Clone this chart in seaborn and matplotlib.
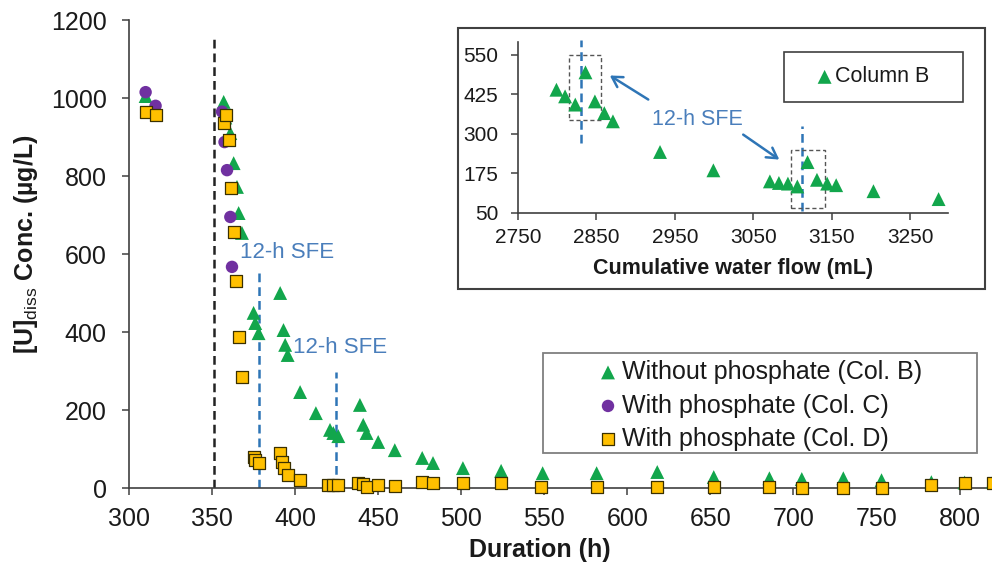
import numpy as np
import pandas as pd
import matplotlib
matplotlib.use("Agg")
import matplotlib.pyplot as plt
import seaborn as sns
from matplotlib.patches import Rectangle

# ---------------- data ----------------
colB_hours = [310, 357, 358, 361, 363, 365, 366, 368, 375, 376, 378, 391, 393, 394, 395.5,
              403, 412.5, 421, 423, 426, 439, 441, 443, 450, 460, 476.5, 483, 501, 524, 549,
              581.5, 618, 652, 685.5, 705, 730, 753, 783, 803, 820]
colB_conc = [1005, 990, 950, 910, 833, 772, 705, 654, 449, 423, 397, 500, 405, 367, 341,
             246, 192, 149, 141, 133, 213, 162, 141, 118, 97, 77, 64, 51, 44, 38,
             38, 41, 28, 25, 23, 25, 20, 15, 14, 16]

colC_hours = [310, 316, 356, 357.5, 359, 361, 362]
colC_conc = [1015, 980, 965, 887, 815, 695, 567]

colD_hours = [310, 316, 357, 358.6, 360, 361.5, 363, 364.5, 366, 368, 375, 376, 378, 391, 392,
              393.5, 395.5, 403, 420, 423, 426, 438, 441, 443, 450, 460, 476.5, 483, 501, 524,
              548, 581.5, 618, 652, 685.5, 705, 730, 753, 783, 803, 820]
colD_conc = [965, 957, 936, 956, 892, 769, 656, 530, 387, 285, 80, 72, 64, 90, 67,
             51, 33, 20, 8, 8, 8, 13, 10, 3, 8, 5, 15, 13, 13, 13,
             3, 2, 2, 2, 2, 0, 1, 1, 8, 12, 12]

inset_flow = [2799, 2810, 2823, 2836, 2848, 2860, 2871, 2931, 2999, 3071, 3082.5, 3094,
              3106, 3119, 3131, 3144, 3155.5, 3203, 3286]
inset_conc = [440, 419, 393, 495, 403, 366, 340, 243, 185, 150, 145, 143,
              134, 211, 155, 143, 138, 119, 94]

main_xticks = list(range(300, 801, 50))
main_yticks = list(range(0, 1201, 200))
inset_xticks = list(range(2750, 3251, 100))
inset_yticks = [50, 175, 300, 425, 550]

labels = ["Without phosphate (Col. B)", "With phosphate (Col. C)", "With phosphate (Col. D)"]

# ---------------- style ----------------
sns.set_theme(style="ticks")
plt.rcParams['font.family'] = ['Liberation Sans', 'DejaVu Sans']
plt.rcParams['mathtext.fontset'] = 'custom'
plt.rcParams['mathtext.rm'] = 'Liberation Sans'
plt.rcParams['mathtext.bf'] = 'Liberation Sans:bold'

GREEN = "#12A64C"
PURPLE = "#7030A0"
GOLD = "#FFC000"
BLUE = "#2E75B6"
TXTBLUE = "#4A7EBB"
SPINE = "#404040"

W, H = 992, 567
fig = plt.figure(figsize=(W / 100, H / 100), dpi=100)


def fx(px):
    return px / W


def fy(py):
    return 1 - py / H


# ---------------- main axes ----------------
ax = fig.add_axes([fx(129), fy(488), fx(992) - fx(129), fy(20) - fy(488)])
ax.set_zorder(0)

dfB = pd.DataFrame({"h": colB_hours, "c": colB_conc})
dfC = pd.DataFrame({"h": colC_hours, "c": colC_conc})
dfD = pd.DataFrame({"h": colD_hours, "c": colD_conc})

sns.scatterplot(data=dfB, x="h", y="c", marker="^", s=100, color=GREEN, edgecolor="none",
                label=labels[0], ax=ax, clip_on=False, zorder=3)
sns.scatterplot(data=dfC, x="h", y="c", marker="o", s=80, color=PURPLE, edgecolor="none",
                label=labels[1], ax=ax, clip_on=False, zorder=4)
sns.scatterplot(data=dfD, x="h", y="c", marker="s", s=66, color=GOLD, edgecolor="#3a3000",
                linewidth=0.9, label=labels[2], ax=ax, clip_on=False, zorder=5)

ax.set_xlim(300, 819.5)
ax.set_ylim(0, 1200)
ax.set_xticks(main_xticks)
ax.set_yticks(main_yticks)
for s in ["top", "right"]:
    ax.spines[s].set_visible(False)
for s in ["left", "bottom"]:
    ax.spines[s].set_color(SPINE)
    ax.spines[s].set_linewidth(1.2)
ax.tick_params(axis="both", direction="out", length=5, width=1.1, color=SPINE,
               labelsize=18, labelcolor="#1a1a1a")
ax.tick_params(axis="y", pad=11)
ax.tick_params(axis="x", pad=9)

ax.set_xlabel("Duration (h)", fontsize=18, fontweight="bold", color="#1a1a1a")
ax.xaxis.set_label_coords((540 - 129) / 863, (488 - 538) / 468)
ax.set_ylabel("[U]$_{\\mathrm{diss}}$ Conc. (µg/L)", fontsize=18, fontweight="bold",
              color="#1a1a1a")
ax.yaxis.set_label_coords((40 - 129) / 863, (488 - 244) / 468)

# reference lines
ax.plot([351, 351], [0, 1162], color="#222222", lw=1.8, ls=(0, (3.5, 2)), zorder=2)
ax.plot([378, 378], [0, 565], color=BLUE, lw=1.8, ls=(0, (3.5, 2)), zorder=2)
ax.plot([424.5, 424.5], [0, 297], color=BLUE, lw=1.8, ls=(0, (3.5, 2)), zorder=2)
ax.text(367, 605, "12-h SFE", fontsize=16, color=TXTBLUE, ha="left", va="center")
ax.text(399, 359, "12-h SFE", fontsize=16, color=TXTBLUE, ha="left", va="center")

# legend
leg = ax.legend(loc="upper left", bbox_to_anchor=(fx(598), fy(360)),
                bbox_transform=fig.transFigure, frameon=False, fontsize=18,
                handlelength=0.8, handletextpad=0.15, labelspacing=0.38,
                borderpad=0, borderaxespad=0)
for t in leg.get_texts():
    t.set_color("#1a1a1a")
fig.add_artist(Rectangle((fx(543), fy(453)), fx(977) - fx(543), fy(353) - fy(453),
                         transform=fig.transFigure, fill=False, edgecolor="#7f7f7f",
                         lw=1.3, zorder=3))

# ---------------- inset ----------------
frame = Rectangle((fx(458), fy(289)), fx(985) - fx(458), fy(28) - fy(289),
                  transform=fig.transFigure, facecolor="white", edgecolor="#404040",
                  lw=1.5, zorder=0.5)
fig.add_artist(frame)

ax2 = fig.add_axes([fx(518), fy(213), fx(948) - fx(518), fy(42) - fy(213)])
ax2.set_zorder(1)
ax2.set_facecolor("none")
dfI = pd.DataFrame({"flow": inset_flow, "c": inset_conc})
sns.scatterplot(data=dfI, x="flow", y="c", marker="^", s=100, color=GREEN, edgecolor="none",
                label="Column B", ax=ax2, clip_on=False, zorder=3)
ax2.set_xlim(2750, 3298)
ax2.set_ylim(50, 591)
ax2.set_xticks(inset_xticks)
ax2.set_yticks(inset_yticks)
for s in ["top", "right"]:
    ax2.spines[s].set_visible(False)
for s in ["left", "bottom"]:
    ax2.spines[s].set_color(SPINE)
    ax2.spines[s].set_linewidth(1.2)
ax2.tick_params(axis="both", direction="out", length=5, width=1.1, color=SPINE,
                labelsize=15, labelcolor="#1a1a1a")
ax2.tick_params(axis="y", pad=9)
ax2.tick_params(axis="x", pad=6)
ax2.set_xlabel("Cumulative water flow (mL)", fontsize=15.5, fontweight="bold",
               color="#1a1a1a")
ax2.xaxis.set_label_coords(0.5, (213 - 258) / 171)
ax2.set_ylabel("")

ax2.plot([2830, 2830], [271, 596], color=BLUE, lw=1.8, ls=(0, (3.5, 2)), clip_on=False,
         zorder=2)
ax2.plot([3112, 3112], [55, 324], color=BLUE, lw=1.8, ls=(0, (3.5, 2)), clip_on=False,
         zorder=2)
ax2.add_patch(Rectangle((2815, 343), 41, 208, fill=False, edgecolor="#555555", lw=1.0,
                        ls=(0, (3, 2)), zorder=2))
ax2.add_patch(Rectangle((3098, 66), 43, 182, fill=False, edgecolor="#555555", lw=1.0,
                        ls=(0, (3, 2)), zorder=2))
ax2.text(2979, 345, "12-h SFE", fontsize=15.5, color=TXTBLUE, ha="center", va="center")
ax2.annotate("", xy=(2867, 485), xytext=(2916, 409),
             arrowprops=dict(arrowstyle="->,head_length=0.6,head_width=0.35", color=BLUE,
                             lw=1.8, shrinkA=0, shrinkB=0))
ax2.annotate("", xy=(3083, 219), xytext=(3037, 298),
             arrowprops=dict(arrowstyle="->,head_length=0.6,head_width=0.35", color=BLUE,
                             lw=1.8, shrinkA=0, shrinkB=0))

leg2 = ax2.legend(loc="center left", bbox_to_anchor=(fx(816), fy(77)),
                  bbox_transform=fig.transFigure, frameon=False, fontsize=15.5,
                  handlelength=0.8, handletextpad=0.1, borderpad=0, borderaxespad=0)
for t in leg2.get_texts():
    t.set_color("#1a1a1a")
fig.add_artist(Rectangle((fx(784), fy(102)), fx(963) - fx(784), fy(52) - fy(102),
                         transform=fig.transFigure, fill=False, edgecolor="#404040",
                         lw=1.2, zorder=3))

fig.savefig("out.png", dpi=100)
